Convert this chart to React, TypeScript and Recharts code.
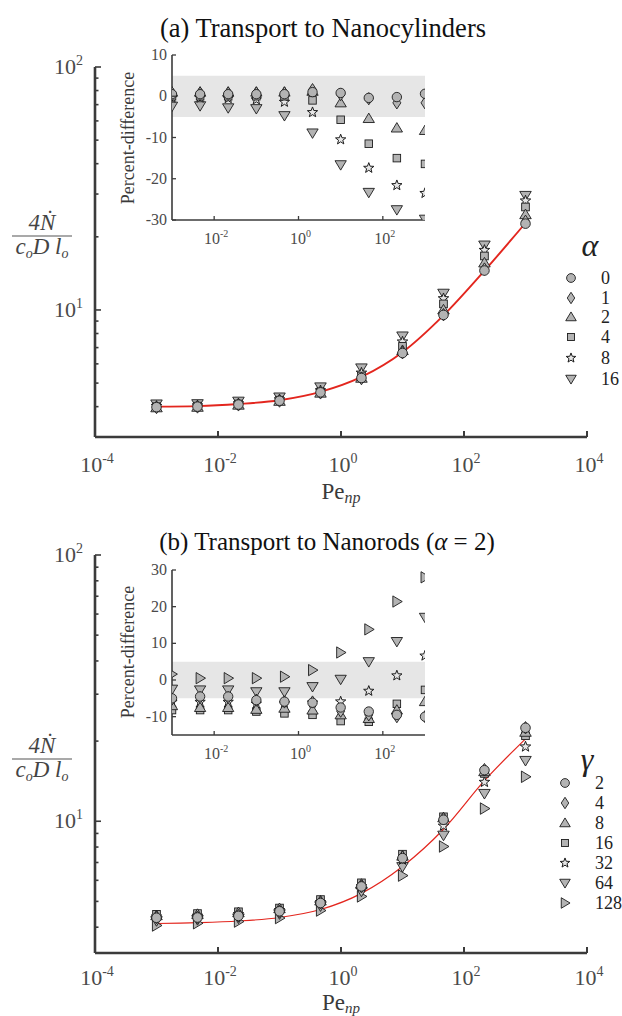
import React from "react";
import {
  ComposedChart,
  Scatter,
  Line,
  XAxis,
  YAxis,
  ReferenceArea,
} from "recharts";

const FONT = "Liberation Serif, DejaVu Serif, serif";
const AXIS = "#3b3b3b";
const TICK_TEXT = "#4a4a4a";
const FILL = "#b3b3b3";
const EDGE = "#1c1c1c";
const RED = "#e3261e";

// Peclet numbers shared by every series
const PE = [0.001, 0.00464, 0.0215, 0.1, 0.464, 2.15, 10, 46.4, 215, 1000];

// (a) nanocylinders - main panel
const cylFit = [4.0, 4.02, 4.1, 4.25, 4.6, 5.3, 6.7, 9.5, 14.5, 22.8];
const cylA0 = [3.98, 4.0, 4.08, 4.23, 4.58, 5.25, 6.65, 9.54, 14.53, 22.66];
const cylA1 = [3.97, 3.99, 4.07, 4.22, 4.56, 5.22, 6.67, 9.56, 14.73, 23.16];
const cylA2 = [3.96, 3.98, 4.06, 4.21, 4.55, 5.24, 6.81, 10.01, 15.62, 24.69];
const cylA4 = [4.0, 4.02, 4.1, 4.25, 4.6, 5.35, 7.08, 10.59, 16.68, 26.54];
const cylA8 = [4.02, 4.04, 4.12, 4.28, 4.66, 5.51, 7.4, 11.15, 17.63, 28.16];
const cylA16 = [4.1, 4.11, 4.21, 4.38, 4.82, 5.77, 7.81, 11.71, 18.49, 29.59];

// (a) inset - percent difference
const cylPd0 = [0.5, 0.5, 0.5, 0.5, 0.5, 1.0, 0.8, -0.4, -0.2, 0.6];
const cylPd1 = [0.8, 0.8, 0.8, 0.8, 0.8, 1.6, 0.4, -0.6, -1.6, -1.6];
const cylPd2 = [1.0, 1.0, 1.0, 1.0, 1.0, 1.2, -1.6, -5.4, -7.7, -8.3];
const cylPd4 = [0, 0, 0, 0, 0, -1.0, -5.7, -11.5, -15, -16.4];
const cylPd8 = [-0.4, -0.4, -0.5, -0.8, -1.4, -3.9, -10.5, -17.4, -21.6, -23.5];
const cylPd16 = [-2.4, -2.3, -2.8, -3.0, -4.7, -8.9, -16.6, -23.3, -27.5, -29.8];

// (b) nanorods - main panel
const rodFit = [4.13, 4.16, 4.22, 4.35, 4.66, 5.36, 6.76, 9.33, 14.2, 20.4];
const rodG2 = [4.34, 4.35, 4.41, 4.59, 4.93, 5.69, 7.27, 10.13, 15.55, 22.44];
const rodG4 = [4.35, 4.36, 4.42, 4.59, 4.94, 5.68, 7.33, 10.22, 15.62, 22.44];
const rodG8 = [4.42, 4.47, 4.54, 4.7, 5.02, 5.8, 7.4, 10.31, 15.36, 21.6];
const rodG16 = [4.47, 4.5, 4.57, 4.72, 5.08, 5.87, 7.52, 10.39, 15.12, 20.95];
const rodG32 = [4.38, 4.41, 4.47, 4.63, 4.96, 5.69, 7.16, 9.61, 14.03, 19.05];
const rodG64 = [4.23, 4.27, 4.33, 4.49, 4.81, 5.46, 6.75, 8.86, 12.71, 16.91];
const rodG128 = [4.06, 4.14, 4.2, 4.33, 4.62, 5.22, 6.25, 8.04, 11.16, 14.69];

// (b) inset - percent difference
const rodPd2 = [-5, -4.5, -4.5, -5.5, -5.9, -6.2, -7.5, -8.6, -9.5, -10];
const rodPd4 = [-5.2, -4.8, -4.8, -5.5, -6, -6, -8.5, -9.5, -10, -10];
const rodPd8 = [-7, -7.5, -7.5, -8, -7.7, -8.2, -9.5, -10.5, -8.2, -5.9];
const rodPd16 = [-8.2, -8.2, -8.2, -8.6, -9.1, -9.5, -11.2, -11.4, -6.5, -2.7];
const rodPd32 = [-6, -6, -6, -6.5, -6.4, -6.2, -5.9, -3, 1.2, 6.6];
const rodPd64 = [-2.5, -2.7, -2.7, -3.2, -3.2, -1.8, 0.2, 5, 10.5, 17.1];
const rodPd128 = [1.6, 0.5, 0.5, 0.5, 0.9, 2.7, 7.5, 13.8, 21.4, 28];

const alphaLabels = ["0", "1", "2", "4", "8", "16"];
const gammaLabels = ["2", "4", "8", "16", "32", "64", "128"];

type Kind = "circle" | "diamond" | "triangle" | "square" | "star" | "down" | "right";
const cylShapes: Kind[] = ["circle", "diamond", "triangle", "square", "star", "down"];
const rodShapes: Kind[] = ["circle", "diamond", "triangle", "square", "star", "down", "right"];

const mainXTicks = [1e-4, 1e-2, 1, 1e2, 1e4];
const mainYTicks = [4, 5, 6, 7, 8, 9, 10, 20, 30, 40, 50, 60, 70, 80, 90, 100];
const insetXTicks = [1e-2, 1, 1e2];
const cylInsetYTicks = [-30, -20, -10, 0, 10];
const rodInsetYTicks = [-10, 0, 10, 20, 30];

function buildRows(fit: number[] | null, series: number[][]) {
  return PE.map((pe, i) => {
    const row: any = { pe };
    if (fit) row.fit = fit[i];
    series.forEach((s, j) => {
      row["s" + j] = s[i];
    });
    return row;
  });
}

const cylRows = buildRows(cylFit, [cylA0, cylA1, cylA2, cylA4, cylA8, cylA16]);
const cylInsetRows = buildRows(null, [cylPd0, cylPd1, cylPd2, cylPd4, cylPd8, cylPd16]);
const rodRows = buildRows(rodFit, [rodG2, rodG4, rodG8, rodG16, rodG32, rodG64, rodG128]);
const rodInsetRows = buildRows(null, [rodPd2, rodPd4, rodPd8, rodPd16, rodPd32, rodPd64, rodPd128]);

function Marker({ cx, cy, kind, r = 4.6 }: { cx: number; cy: number; kind: Kind; r?: number }) {
  if (cx == null || cy == null || isNaN(cx) || isNaN(cy)) return null;
  const common = { fill: FILL, stroke: EDGE, strokeWidth: 0.9 };
  switch (kind) {
    case "circle":
      return <circle cx={cx} cy={cy} r={r} {...common} />;
    case "diamond":
      return (
        <polygon
          points={`${cx},${cy - r * 1.3} ${cx + r * 0.85},${cy} ${cx},${cy + r * 1.3} ${cx - r * 0.85},${cy}`}
          {...common}
        />
      );
    case "triangle":
      return (
        <polygon
          points={`${cx},${cy - r * 1.15} ${cx + r * 1.2},${cy + r * 0.85} ${cx - r * 1.2},${cy + r * 0.85}`}
          {...common}
        />
      );
    case "down":
      return (
        <polygon
          points={`${cx - r * 1.2},${cy - r * 0.85} ${cx + r * 1.2},${cy - r * 0.85} ${cx},${cy + r * 1.15}`}
          {...common}
        />
      );
    case "right":
      return (
        <polygon
          points={`${cx - r * 0.85},${cy - r * 1.2} ${cx - r * 0.85},${cy + r * 1.2} ${cx + r * 1.15},${cy}`}
          {...common}
        />
      );
    case "square":
      return <rect x={cx - r * 0.8} y={cy - r * 0.8} width={r * 1.6} height={r * 1.6} {...common} />;
    case "star": {
      const pts: string[] = [];
      for (let i = 0; i < 10; i++) {
        const a = (-90 + i * 36) * (Math.PI / 180);
        const rr = i % 2 === 0 ? r * 1.15 : r * 0.48;
        pts.push(`${cx + rr * Math.cos(a)},${cy + rr * Math.sin(a)}`);
      }
      return <polygon points={pts.join(" ")} fill="#e6e6e6" stroke={EDGE} strokeWidth={1} />;
    }
  }
  return null;
}

const shapeOf = (kind: Kind, r: number) => (p: any) => <Marker cx={p.cx} cy={p.cy} kind={kind} r={r} />;

function Pow({ x, y, exp, size, sup, anchor }: any) {
  return (
    <text x={x} y={y} textAnchor={anchor} fontSize={size} fill={TICK_TEXT} style={{ fontFamily: FONT }}>
      10
      <tspan dy={-size * 0.42} fontSize={sup}>
        {exp}
      </tspan>
    </text>
  );
}

const makeMainXTick = (labelOffset: number) => (p: any) => {
  const { x, y, payload } = p;
  const e = Math.round(Math.log10(payload.value));
  return (
    <g>
      <line x1={x} x2={x} y1={y} y2={y - 6} stroke={AXIS} strokeWidth={2} />
      <Pow x={x + 2} y={y + labelOffset} exp={e} size={22} sup={14} anchor="middle" />
    </g>
  );
};

function MainYTick(p: any) {
  const { x, y, payload } = p;
  const v = payload.value;
  const major = v === 10 || v === 100;
  return (
    <g>
      <line x1={x} x2={x + (major ? 6 : 3.5)} y1={y} y2={y} stroke={AXIS} strokeWidth={1.6} />
      {major && <Pow x={x - 12} y={y + 7} exp={Math.round(Math.log10(v))} size={22} sup={14} anchor="end" />}
    </g>
  );
}

function InsetXTick(p: any) {
  const { x, y, payload } = p;
  const e = Math.round(Math.log10(payload.value));
  return (
    <g>
      <line x1={x} x2={x} y1={y} y2={y - 4} stroke={AXIS} strokeWidth={1.3} />
      <Pow x={x + 2} y={y + 24} exp={e} size={16} sup={10} anchor="middle" />
    </g>
  );
}

function InsetYTick(p: any) {
  const { x, y, payload } = p;
  return (
    <g>
      <line x1={x} x2={x + 4} y1={y} y2={y} stroke={AXIS} strokeWidth={1.3} />
      <text x={x - 5} y={y + 5} textAnchor="end" fontSize={16} fill={TICK_TEXT} style={{ fontFamily: FONT }}>
        {payload.value}
      </text>
    </g>
  );
}

function MainPanel({ rows, shapes, top, bottom, yMin, fitWidth, labelOffset }: any) {
  const xTick = makeMainXTick(labelOffset);
  return (
    <ComposedChart width={622} height={530} data={rows} margin={{ top, right: 35, bottom, left: 35 }}>
      <XAxis
        dataKey="pe"
        type="number"
        scale="log"
        domain={[1e-4, 1e4]}
        ticks={mainXTicks}
        interval={0}
        allowDataOverflow
        height={30}
        tickSize={0}
        tickMargin={0}
        tickLine={false}
        tick={xTick}
        axisLine={{ stroke: AXIS, strokeWidth: 2.6 }}
      />
      <YAxis
        type="number"
        scale="log"
        domain={[yMin, 100]}
        ticks={mainYTicks}
        interval={0}
        allowDataOverflow
        width={60}
        tickSize={0}
        tickMargin={0}
        tickLine={false}
        tick={(p: any) => <MainYTick {...p} />}
        axisLine={{ stroke: AXIS, strokeWidth: 2.6 }}
      />
      {shapes
        .map((k: Kind, j: number) => (
          <Scatter key={k} dataKey={"s" + j} shape={shapeOf(k, 4.8)} isAnimationActive={false} />
        ))
        .reverse()}
      <Line
        dataKey="fit"
        type="monotone"
        stroke={RED}
        strokeWidth={fitWidth}
        dot={false}
        activeDot={false}
        isAnimationActive={false}
      />
    </ComposedChart>
  );
}

function InsetPanel({ rows, shapes, height, top, bottom, domain, ticks }: any) {
  return (
    <ComposedChart width={460} height={height} data={rows} margin={{ top, right: 35, bottom, left: 112 }}>
      <ReferenceArea x1={1e-3} x2={1e3} y1={-5} y2={5} fill="#e6e6e6" fillOpacity={1} stroke="none" />
      <XAxis
        dataKey="pe"
        type="number"
        scale="log"
        domain={[1e-3, 1e3]}
        ticks={insetXTicks}
        interval={0}
        allowDataOverflow
        height={30}
        tickSize={0}
        tickMargin={0}
        tickLine={false}
        tick={(p: any) => <InsetXTick {...p} />}
        axisLine={{ stroke: AXIS, strokeWidth: 1.6 }}
      />
      <YAxis
        type="number"
        domain={domain}
        ticks={ticks}
        interval={0}
        allowDataOverflow
        width={60}
        tickSize={0}
        tickMargin={0}
        tickLine={false}
        tick={(p: any) => <InsetYTick {...p} />}
        axisLine={{ stroke: AXIS, strokeWidth: 1.6 }}
      />
      {shapes
        .map((k: Kind, j: number) => (
          <Scatter key={k} dataKey={"s" + j} shape={shapeOf(k, 4.7)} isAnimationActive={false} />
        ))
        .reverse()}
    </ComposedChart>
  );
}

function LegendBlock({ symbol, sx, sy, mx, tx, rowsY, labels, shapes }: any) {
  return (
    <g>
      <text x={sx} y={sy} textAnchor="middle" fontSize={32} fontStyle="italic" fill="#222">
        {symbol}
      </text>
      {labels.map((lab: string, i: number) => (
        <g key={lab}>
          <Marker cx={mx} cy={rowsY[i]} kind={shapes[i]} r={4.4} />
          <text x={tx} y={rowsY[i] + 6} fontSize={18} fill="#222">
            {lab}
          </text>
        </g>
      ))}
    </g>
  );
}

function FractionLabel({ y }: { y: number }) {
  return (
    <g fill="#444">
      <text x={42} y={y - 6} textAnchor="middle" fontSize={23} fontStyle="italic">
        4Ṅ
      </text>
      <line x1={12} x2={72} y1={y} y2={y} stroke="#555" strokeWidth={1.2} />
      <text x={42} y={y + 18} textAnchor="middle" fontSize={23} fontStyle="italic">
        c
        <tspan fontSize={14} dy={4}>
          o
        </tspan>
        <tspan dy={-4}>D l</tspan>
        <tspan fontSize={14} dy={4}>
          o
        </tspan>
      </text>
    </g>
  );
}

export default function App() {
  const alphaRows = [278, 298, 317, 337, 358, 379];
  const gammaRows = [783, 803, 823, 843, 863, 883, 903];
  return (
    <div
      style={{
        position: "absolute",
        left: 0,
        top: 0,
        width: 622,
        height: 1016,
        background: "#fff",
        overflow: "hidden",
        fontFamily: FONT,
      }}
    >
      <div style={{ position: "absolute", left: 0, top: 0 }}>
        <MainPanel
          rows={cylRows}
          shapes={cylShapes}
          top={67}
          bottom={63}
          yMin={3}
          fitWidth={1.9}
          labelOffset={35}
        />
      </div>
      <div style={{ position: "absolute", left: 0, top: 0 }}>
        <InsetPanel
          rows={cylInsetRows}
          shapes={cylShapes}
          height={270}
          top={55}
          bottom={20}
          domain={[-30, 10]}
          ticks={cylInsetYTicks}
        />
      </div>
      <div style={{ position: "absolute", left: 0, top: 488 }}>
        <MainPanel
          rows={rodRows}
          shapes={rodShapes}
          top={67}
          bottom={35}
          yMin={3.2}
          fitWidth={1.2}
          labelOffset={32}
        />
      </div>
      <div style={{ position: "absolute", left: 0, top: 488 }}>
        <InsetPanel
          rows={rodInsetRows}
          shapes={rodShapes}
          height={300}
          top={82}
          bottom={23}
          domain={[-15, 30]}
          ticks={rodInsetYTicks}
        />
      </div>
      <svg
        width={622}
        height={1016}
        style={{ position: "absolute", left: 0, top: 0, pointerEvents: "none", fontFamily: FONT }}
      >
        <text x={323} y={37} textAnchor="middle" fontSize={26.5} fill="#111">
          (a) Transport to Nanocylinders
        </text>
        <text x={327} y={550} textAnchor="middle" fontSize={25} fill="#111">
          (b) Transport to Nanorods (<tspan fontStyle="italic">α</tspan> = 2)
        </text>

        <FractionLabel y={236} />
        <FractionLabel y={759} />

        <text x={341} y={499} textAnchor="middle" fontSize={23} fill="#3a3a3a">
          Pe
          <tspan fontStyle="italic" fontSize={16} dy={4}>
            np
          </tspan>
        </text>
        <text x={341} y={1010} textAnchor="middle" fontSize={23} fill="#3a3a3a">
          Pe
          <tspan fontStyle="italic" fontSize={15} dy={3}>
            np
          </tspan>
        </text>

        <text transform="translate(134,138) rotate(-90)" textAnchor="middle" fontSize={18} fill="#3a3a3a">
          Percent-difference
        </text>
        <text transform="translate(134,652) rotate(-90)" textAnchor="middle" fontSize={18} fill="#3a3a3a">
          Percent-difference
        </text>

        <LegendBlock
          symbol="α"
          sx={590}
          sy={256}
          mx={571}
          tx={601}
          rowsY={alphaRows}
          labels={alphaLabels}
          shapes={cylShapes}
        />
        <LegendBlock
          symbol="γ"
          sx={587}
          sy={770}
          mx={565}
          tx={595}
          rowsY={gammaRows}
          labels={gammaLabels}
          shapes={rodShapes}
        />
      </svg>
    </div>
  );
}
